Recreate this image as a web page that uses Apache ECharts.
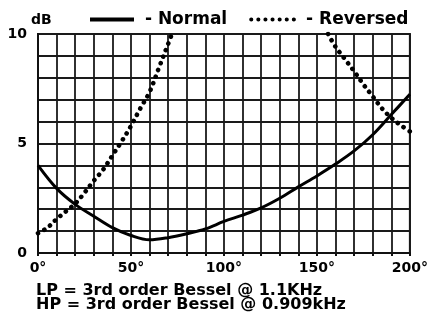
<!DOCTYPE html>
<html>
<head>
<meta charset="utf-8">
<script src="https://cdn.jsdelivr.net/npm/echarts@6/dist/echarts.min.js"></script>
<style>
  html, body { margin: 0; padding: 0; background: #fff; }
  #chart { width: 431px; height: 327px; }
</style>
</head>
<body>
<div id="chart"></div>
<script>
// Phase angle (degrees) against response deviation (dB)
var normalAngle = [0, 10, 20, 30, 40, 50, 60, 70, 80, 90, 100, 110, 120, 130, 140, 150, 160, 170, 180, 190, 200];
var normalDb    = [4.0, 2.95, 2.22, 1.68, 1.16, 0.8, 0.6, 0.7, 0.88, 1.1, 1.44, 1.73, 2.06, 2.5, 3.02, 3.52, 4.06, 4.66, 5.4, 6.32, 7.25];

// Reversed polarity leaves the 0-10 dB window between about 72 and 156 degrees
var reversedLeftAngle  = [0, 5, 10, 15, 20, 25, 30, 35, 40, 45, 50, 55, 60, 65, 70, 72];
var reversedLeftDb     = [0.9, 1.15, 1.55, 1.9, 2.25, 2.75, 3.3, 3.8, 4.45, 5.1, 5.8, 6.6, 7.35, 8.45, 9.55, 10];
var reversedRightAngle = [156, 160, 165, 170, 175, 180, 185, 190, 195, 200];
var reversedRightDb    = [10, 9.42, 8.86, 8.3, 7.7, 7.15, 6.6, 6.17, 5.84, 5.55];

var xLabels = [0, 50, 100, 150, 200];
var yLabels = [0, 5, 10];

var FONT = 'DejaVu Sans';

function pairs(xs, ys) {
  return xs.map(function (x, i) { return [x, ys[i]]; });
}

var reversedData = pairs(reversedLeftAngle, reversedLeftDb)
  .concat([['-', '-']])
  .concat(pairs(reversedRightAngle, reversedRightDb));

var chart = echarts.init(document.getElementById('chart'), null, { renderer: 'canvas' });

chart.setOption({
  backgroundColor: '#ffffff',
  animation: false,
  title: [
    {
      text: 'dB',
      left: 31, top: 12, padding: 0,
      textStyle: { fontFamily: FONT, fontSize: 14, fontWeight: 'bold', color: '#000', lineHeight: 16 }
    },
    {
      text: 'LP = 3rd order Bessel @ 1.1KHz\nHP = 3rd order Bessel @ 0.909kHz',
      left: 36, top: 284,
      padding: 0,
      textStyle: { fontFamily: FONT, fontSize: 16, fontWeight: 'bold', color: '#000', lineHeight: 14 }
    }
  ],
  legend: {
    top: 11, left: 88, padding: 0,
    itemWidth: 44, itemHeight: 14, itemGap: 22,
    formatter: ' - {name}',
    itemStyle: { opacity: 0 },
    lineStyle: { width: 4 },
    textStyle: { fontFamily: FONT, fontSize: 17, fontWeight: 'bold', color: '#000' },
    data: ['Normal', 'Reversed']
  },
  grid: {
    left: 38, right: 20, top: 34, bottom: 74,
    show: true, borderColor: '#111', borderWidth: 2
  },
  xAxis: {
    type: 'value', min: 0, max: 200, interval: 10,
    axisLine: { show: true, lineStyle: { color: '#111', width: 2 } },
    axisTick: { show: true, length: 3, lineStyle: { color: '#111', width: 2 } },
    splitLine: { show: true, lineStyle: { color: '#1a1a1a', width: 1.8 } },
    axisLabel: {
      margin: 8,
      fontFamily: FONT, fontSize: 14, fontWeight: 'bold', color: '#000',
      formatter: function (v) { return xLabels.indexOf(v) >= 0 ? v + '°' : ''; }
    }
  },
  yAxis: {
    type: 'value', min: 0, max: 10, interval: 1,
    axisLine: { show: true, lineStyle: { color: '#111', width: 2 } },
    axisTick: { show: false },
    splitLine: { show: true, lineStyle: { color: '#1a1a1a', width: 1.8 } },
    axisLabel: {
      margin: 11,
      fontFamily: FONT, fontSize: 14, fontWeight: 'bold', color: '#000',
      formatter: function (v) { return yLabels.indexOf(v) >= 0 ? String(v) : ''; }
    }
  },
  series: [
    {
      name: 'Normal',
      type: 'line',
      smooth: 0.35,
      symbol: 'none',
      data: pairs(normalAngle, normalDb),
      lineStyle: { color: '#000', width: 3 },
      itemStyle: { color: '#000' },
      z: 3
    },
    {
      name: 'Reversed',
      type: 'line',
      smooth: 0.35,
      symbol: 'none',
      connectNulls: false,
      data: reversedData,
      lineStyle: { color: '#000', width: 4.6, type: [0.1, 7], cap: 'round' },
      itemStyle: { color: '#000' },
      z: 4
    }
  ]
});
</script>
</body>
</html>
